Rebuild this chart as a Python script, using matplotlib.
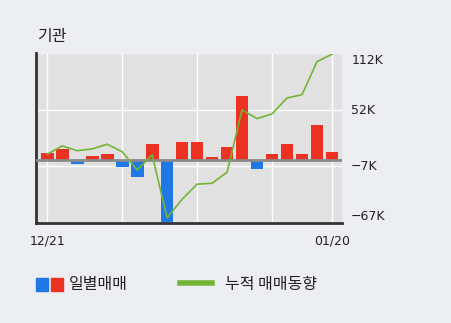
import numpy as np
import matplotlib
matplotlib.use("Agg")
import matplotlib.pyplot as plt
from matplotlib.patches import Rectangle
from matplotlib.lines import Line2D

plt.rcParams["font.family"] = ["Noto Sans CJK KR", "DejaVu Sans"]

# 일별 매매 (천주 단위) / 누적 매매동향
daily = [6.7, 10.9, -4.3, 4.1, 6.2, -7.5, -18.1, 16.8, -65.9, 18.6,
         18.6, 3.1, 13.6, 67.2, -9.6, 5.9, 16.5, 6.2, 36.9, 8.3]
cumulative = [5.6, 14.4, 9.4, 11.2, 16.2, 8.3, -11.0, 4.9, -61.4, -42.0,
              -26.0, -25.0, -13.4, 52.4, 43.2, 48.2, 65.0, 68.5, 103.4, 111.2]
y_ticks = [112, 52, -7, -67]
y_labels = ["112K", "52K", "\u22127K", "\u221267K"]
x_label_pos = [0, 19]
x_labels = ["12/21", "01/20"]
grid_x = [0, 5, 10, 15, 19]

RED = "#ec3222"
BLUE = "#1f78e6"
GREEN = "#72b536"

fig = plt.figure(figsize=(4.51, 3.23), dpi=100, facecolor="#eceef2")
ax = fig.add_axes([36 / 451, 1 - 223 / 323, 306 / 451, 169.5 / 323])
ax.set_facecolor("#e1e1e1")

x = np.arange(len(daily))
colors = [RED if v >= 0 else BLUE for v in daily]
ax.bar(x, daily, width=0.85, color=colors, zorder=3)
ax.axhline(0, color="#8a8a8a", lw=2, zorder=4)
ax.plot(x, cumulative, color=GREEN, lw=1.2, zorder=5)

ax.set_xlim(-0.75, 19.67)
ax.set_ylim(-67, 112)

for gx in grid_x:
    ax.axvline(gx, color="white", lw=1, zorder=1)
for gy in y_ticks:
    ax.axhline(gy, color="white", lw=1, zorder=1)

ax.set_xticks([])
ax.set_yticks([])
for s in ["top", "right"]:
    ax.spines[s].set_visible(False)
for s in ["left", "bottom"]:
    ax.spines[s].set_color("#333333")
    ax.spines[s].set_linewidth(2)

# 오른쪽 축 라벨
for yv, lab in zip(y_ticks, y_labels):
    va = "center"
    if yv == y_ticks[0]:
        va = "top"
    elif yv == y_ticks[-1]:
        va = "bottom"
    ax.text(1.03, yv, lab, transform=ax.get_yaxis_transform(), ha="left", va=va,
            fontsize=9, color="#222222", family=["DejaVu Sans"])
for xv, lab in zip(x_label_pos, x_labels):
    ax.text(xv, -0.07, lab, transform=ax.get_xaxis_transform(), ha="center", va="top",
            fontsize=9, color="#222222", family=["DejaVu Sans"])

fig.text(37 / 451, 1 - 37 / 323, "기관", fontsize=11.5, va="center", ha="left", color="#222222")

# 범례
fig.patches.append(Rectangle((36 / 451, 1 - 291 / 323), 12 / 451, 13 / 323,
                             transform=fig.transFigure, color=BLUE, figure=fig))
fig.patches.append(Rectangle((51 / 451, 1 - 291 / 323), 12 / 451, 13 / 323,
                             transform=fig.transFigure, color=RED, figure=fig))
fig.text(69 / 451, 1 - 284 / 323, "일별매매", fontsize=11.5, va="center", ha="left", color="#222222")
fig.lines.append(Line2D([180 / 451, 212 / 451], [1 - 283 / 323, 1 - 283 / 323],
                        transform=fig.transFigure, color=GREEN, lw=4))
fig.text(225 / 451, 1 - 284 / 323, "누적 매매동향", fontsize=11.5, va="center", ha="left", color="#222222")

fig.savefig("out.png", dpi=100, facecolor=fig.get_facecolor())
